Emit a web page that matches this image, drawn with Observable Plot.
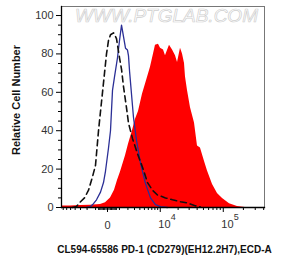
<!DOCTYPE html>
<html>
<head>
<meta charset="utf-8">
<script src="https://cdn.jsdelivr.net/npm/d3@7"></script>
<script src="https://cdn.jsdelivr.net/npm/@observablehq/plot@0.6"></script>
<style>
  html, body { margin: 0; padding: 0; background: #fff; }
</style>
</head>
<body>
<div id="chart"></div>
<script>
// Sample (red filled histogram): fluorescence intensity vs relative cell count
const redX = [-7540, -5030, -3000, -1560, -537, -140, 214, 537, 808, 1110, 1686, 2080, 2670, 3176, 3730, 4560, 5520, 6610, 7540, 8200, 9300, 10100, 11400, 12330, 14420, 16190, 18140, 19570, 21860, 23540, 25340, 26280, 28260, 31520, 36380, 40480, 45000, 51920, 57700, 68800, 81800, 97400, 124000, 163000, 215000];
const redY = [0.8, 0.8, 1, 1.2, 1.5, 2.5, 5, 9, 14, 18.5, 27, 33, 40, 46, 50, 59, 66, 73, 80, 84.5, 85, 83, 82, 79, 84.5, 82, 79, 75.5, 83, 80, 75, 68, 61, 52, 44, 32, 31, 24, 19, 12, 7.3, 4.7, 2, 0.5, 0];

// Blue solid line (unstained / control)
const blueX = [-2080, -1560, -1220, -906, -537, -291, -140, 69, 214, 370, 537, 808, 1006, 1220, 1686, 1944, 2080, 2230, 2520, 2830, 3356, 4135, 5270, 6610, 8200, 10100, 13340];
const blueY = [0, 0.5, 2, 4, 8, 13, 19, 31, 40, 61, 68, 78, 87, 95, 83, 82, 79, 71, 59, 47, 35, 23, 12.5, 5, 1.5, 0.5, 0];

// Black dashed line (isotype control)
const dashX = [-4560, -3730, -3000, -2370, -1810, -1330, -1006, -714, -537, -370, -214, -69, 69, 214, 452, 714, 1006, 1220, 1444, 1810, 2080, 2670, 3540, 4560, 5780, 7220, 8930, 12330, 16190, 21860, 28260, 36380, 45000];
const dashY = [0, 0.5, 3, 5, 9, 16, 22, 40, 50, 60, 70, 80, 87, 90, 91, 88, 78, 72, 63, 52, 44, 36, 28, 21, 13, 9, 6.5, 5, 4, 3, 2.4, 1, 0.3];

// Axis ticks and labels
const yMajor = [0, 20, 40, 60, 80, 100];
const yMinor = [5, 10, 15, 25, 30, 35, 45, 50, 55, 65, 70, 75, 85, 90, 95];
const xZero = [0];
const xPowers = [10000, 100000];
const xMinor = [-7000, -6000, -5000, -4000, -3000, -2000, -1000,
  -700, -600, -500, -400, -300, -200, -100, 100, 200, 300, 400, 500, 600, 700,
  1000, 2000, 3000, 4000, 5000, 6000, 7000, 8000, 9000,
  20000, 30000, 40000, 50000, 60000, 70000, 80000, 90000,
  200000, 300000, 400000];
const xLabel = "CL594-65586 PD-1 (CD279)(EH12.2H7),ECD-A";
const yLabel = "Relative Cell Number";
const watermark = "WWW.PTGLAB.COM";

const red = redX.map((x, i) => ({x, y: redY[i]}));
const blue = blueX.map((x, i) => ({x, y: blueY[i]}));
const dash = dashX.map((x, i) => ({x, y: dashY[i]}));

const chart = Plot.plot({
  width: 284,
  height: 262,
  marginLeft: 61,
  marginRight: 20,
  marginTop: 6,
  marginBottom: 55,
  style: {fontFamily: "'Liberation Sans', Arial, sans-serif", fontSize: "11px", background: "#fff", color: "#333"},
  x: {type: "symlog", constant: 2000, domain: [-7540, 411600]},
  y: {domain: [0, 104.7]},
  marks: [
    Plot.text([watermark], {frameAnchor: "top", lineAnchor: "middle", textAnchor: "middle", dy: 9, dx: 3.5, fontSize: 19, fontStyle: "italic", fill: "none", stroke: "#cfcfcf", strokeWidth: 0.7}),
    Plot.areaY(red, {x: "x", y: "y", fill: "#ff0000"}),
    Plot.lineY(blue, {x: "x", y: "y", stroke: "#2b2f96", strokeWidth: 1.3}),
    Plot.lineY(dash, {x: "x", y: "y", stroke: "#111", strokeWidth: 1.6, strokeDasharray: "6,4"}),
    Plot.frame({stroke: "#777", strokeWidth: 1}),
    Plot.frame({anchor: "left", stroke: "#000", strokeWidth: 1.3}),
    Plot.frame({anchor: "bottom", stroke: "#000", strokeWidth: 1.3}),
    Plot.axisY({ticks: yMajor, tickSize: 5, tickPadding: 3, label: null, fontSize: 11, stroke: "#000"}),
    Plot.axisY({ticks: yMinor, tickSize: 3, tickFormat: () => "", label: null, stroke: "#000"}),
    Plot.axisX({ticks: xZero.concat(xPowers), tickSize: 5, tickFormat: () => "", label: null, stroke: "#000"}),
    Plot.axisX({ticks: xMinor, tickSize: 3, tickFormat: () => "", label: null, stroke: "#000"}),
    Plot.text(xZero, {x: d => d, text: d => String(d), frameAnchor: "bottom", lineAnchor: "middle", textAnchor: "middle", dy: 18, fontSize: 11, fill: "#333"}),
    Plot.text(xPowers, {x: d => d, text: () => "10", frameAnchor: "bottom", lineAnchor: "middle", dy: 17, dx: -2, textAnchor: "start", fontSize: 11, fill: "#333"}),
    Plot.text(xPowers, {x: d => d, text: d => String(Math.round(Math.log10(d))), frameAnchor: "bottom", lineAnchor: "middle", dy: 10, dx: 10.5, textAnchor: "start", fontSize: 9, fill: "#333"}),
    Plot.text([yLabel], {frameAnchor: "left", textAnchor: "middle", lineAnchor: "middle", dx: -45, dy: -7, rotate: -90, fontWeight: "bold", fontSize: 11, fill: "#111"}),
    Plot.text([xLabel], {frameAnchor: "bottom", textAnchor: "middle", lineAnchor: "middle", dy: 42, dx: 1.5, fontWeight: "bold", fontSize: 10, fill: "#111"})
  ]
});
document.getElementById("chart").appendChild(chart);
</script>
</body>
</html>
